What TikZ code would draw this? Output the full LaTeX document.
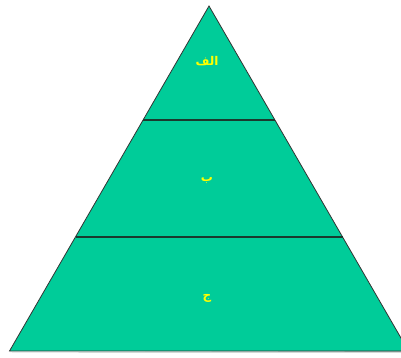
\documentclass[tikz,border=0pt]{standalone}
\usepackage{fontspec}
\TeXXeTstate=1
\newfontfamily\arabicfont[Script=Arabic]{DejaVu Sans}
\definecolor{pyrfill}{HTML}{00CC99}
\definecolor{pyrline}{HTML}{1A3A2E}
\definecolor{lbl}{HTML}{FFFF00}
\tikzset{
  lvl/.style={font=\arabicfont\bfseries\fontsize{12}{14}\selectfont, text=lbl, inner sep=0pt},
  divider/.style={draw=pyrline, line width=2pt},
  outline/.style={draw=black!80, line width=0.8pt, fill=pyrfill}
}
\begin{document}
\begin{tikzpicture}[x=1pt,y=-1pt]
\useasboundingbox (0,0) rectangle (401,357);
\clip (0,0) rectangle (401,357);
\coordinate (apex) at (209,6);
\coordinate (bl) at (9.5,351);
\coordinate (br) at (408.5,351);
\fill[pyrline!60, opacity=0.5] (bl) ++(0,1.5) -- ++(399,0) -- ++(0,-1.5) -- cycle;
\draw[outline] (apex) -- (bl) -- (br) -- cycle;
\draw[divider] (143,120) -- (275,120);
\draw[divider] (76,237) -- (343,237);
\node[lvl] (a) at (207,61) {\beginR الف\endR};
\node[lvl] (b) at (207,180) {\beginR ب\endR};
\node[lvl] (c) at (207,298) {\beginR ج\endR};
\end{tikzpicture}
\end{document}
